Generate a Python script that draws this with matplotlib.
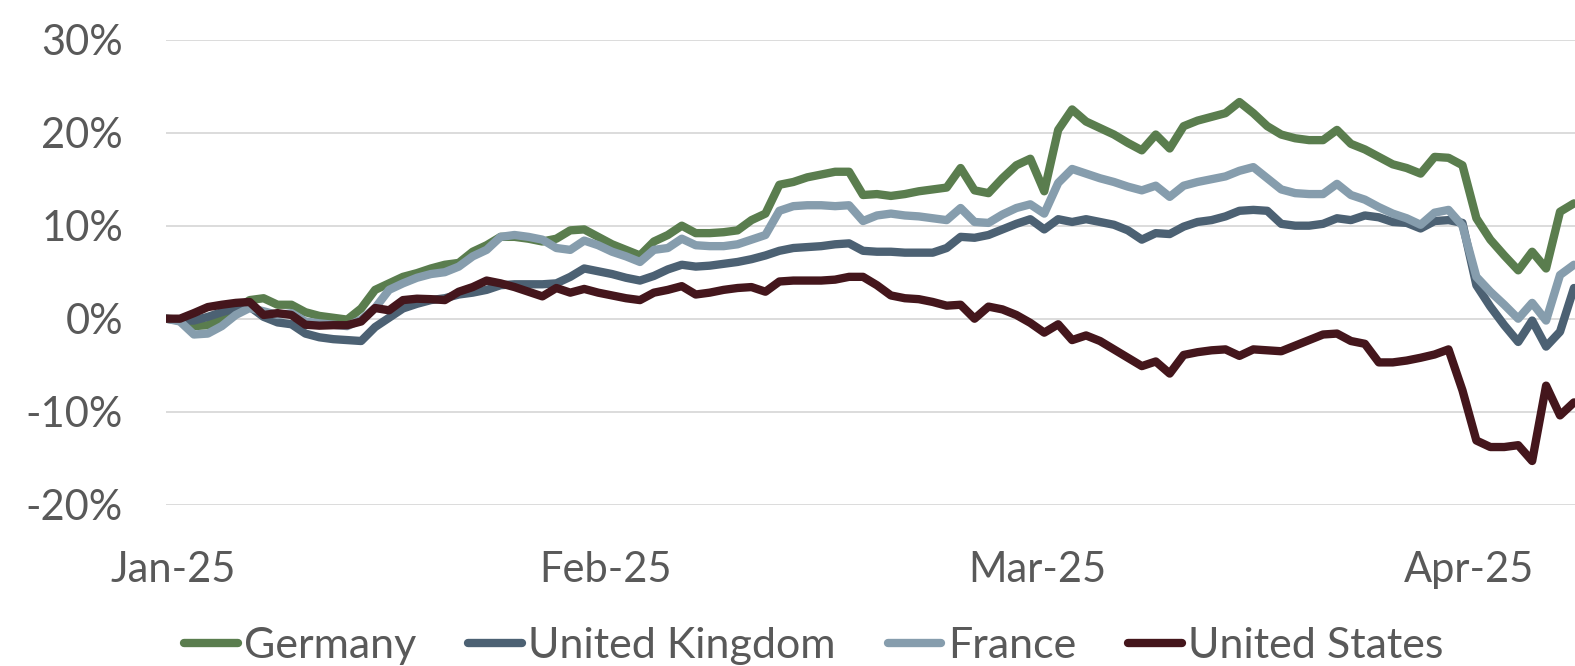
import matplotlib
matplotlib.use("Agg")
import matplotlib.pyplot as plt
import numpy as np

# cumulative return since start of year, %, one value per calendar day
germany = [0.0, -0.1, -0.8, -0.7, 0.1, 1.0, 2.0, 2.2, 1.5, 1.5,
           0.7, 0.3, 0.1, -0.1, 1.1, 3.1, 3.8, 4.5, 4.9, 5.4,
           5.8, 6.0, 7.2, 7.9, 8.8, 8.8, 8.6, 8.3, 8.6, 9.5,
           9.6, 8.8, 8.0, 7.4, 6.8, 8.3, 9.0, 10.0, 9.2, 9.2,
           9.3, 9.5, 10.6, 11.3, 14.4, 14.7, 15.2, 15.5, 15.8, 15.8,
           13.3, 13.4, 13.2, 13.4, 13.7, 13.9, 14.1, 16.2, 13.8, 13.5,
           15.1, 16.5, 17.2, 13.7, 20.3, 22.5, 21.2, 20.5, 19.8, 18.9,
           18.1, 19.8, 18.3, 20.7, 21.3, 21.7, 22.1, 23.3, 22.1, 20.7,
           19.8, 19.4, 19.2, 19.2, 20.3, 18.8, 18.2, 17.4, 16.6, 16.2,
           15.6, 17.4, 17.3, 16.5, 10.8, 8.5, 6.8, 5.2, 7.2, 5.4,
           11.5, 12.4]
uk = [0.0, -0.2, -0.2, 0.2, 0.7, 1.1, 1.3, 0.2, -0.4, -0.6,
      -1.6, -2.0, -2.2, -2.3, -2.4, -0.9, 0.1, 1.1, 1.6, 2.0,
      2.2, 2.6, 2.8, 3.1, 3.6, 3.7, 3.7, 3.7, 3.8, 4.5,
      5.4, 5.1, 4.8, 4.4, 4.1, 4.6, 5.3, 5.8, 5.6, 5.7,
      5.9, 6.1, 6.4, 6.8, 7.3, 7.6, 7.7, 7.8, 8.0, 8.1,
      7.3, 7.2, 7.2, 7.1, 7.1, 7.1, 7.6, 8.8, 8.7, 9.0,
      9.6, 10.2, 10.7, 9.6, 10.7, 10.4, 10.7, 10.4, 10.1, 9.5,
      8.5, 9.2, 9.1, 9.9, 10.4, 10.6, 11.0, 11.6, 11.7, 11.6,
      10.2, 10.0, 10.0, 10.2, 10.8, 10.6, 11.1, 10.9, 10.4, 10.3,
      9.7, 10.5, 10.6, 10.3, 3.6, 1.3, -0.7, -2.5, -0.2, -3.0,
      -1.4, 3.3]
france = [0.0, -0.3, -1.7, -1.6, -0.8, 0.4, 1.15, 0.8, 0.4, 0.6,
          -0.3, -0.5, -0.65, -0.8, -0.1, 1.15, 3.1, 3.8, 4.4, 4.8,
          5.0, 5.6, 6.7, 7.4, 8.8, 9.0, 8.8, 8.5, 7.6, 7.4,
          8.4, 7.9, 7.2, 6.7, 6.1, 7.4, 7.6, 8.6, 7.9, 7.8,
          7.8, 8.0, 8.5, 9.0, 11.6, 12.1, 12.2, 12.2, 12.1, 12.2,
          10.5, 11.1, 11.3, 11.1, 11.0, 10.8, 10.6, 11.9, 10.4, 10.3,
          11.2, 11.9, 12.3, 11.3, 14.6, 16.1, 15.6, 15.1, 14.7, 14.2,
          13.8, 14.3, 13.1, 14.3, 14.7, 15.0, 15.3, 15.9, 16.3, 15.1,
          13.9, 13.5, 13.4, 13.4, 14.5, 13.3, 12.8, 12.0, 11.3, 10.8,
          10.1, 11.4, 11.7, 10.0, 4.5, 2.9, 1.5, 0.0, 1.7, -0.2,
          4.7, 5.8]
us = [0.0, 0.0, 0.6, 1.25, 1.5, 1.7, 1.8, 0.4, 0.6, 0.4,
      -0.65, -0.75, -0.7, -0.7, -0.3, 1.15, 0.9, 2.0, 2.15, 2.1,
      2.0, 2.9, 3.4, 4.1, 3.8, 3.4, 2.9, 2.4, 3.3, 2.8,
      3.2, 2.8, 2.5, 2.2, 2.0, 2.8, 3.1, 3.5, 2.6, 2.8,
      3.1, 3.3, 3.4, 2.9, 4.0, 4.1, 4.1, 4.1, 4.2, 4.5,
      4.5, 3.6, 2.5, 2.2, 2.1, 1.8, 1.4, 1.5, 0.0, 1.3,
      1.0, 0.4, -0.45, -1.5, -0.6, -2.3, -1.8, -2.4, -3.3, -4.2,
      -5.1, -4.6, -5.9, -3.9, -3.6, -3.4, -3.3, -4.0, -3.3, -3.4,
      -3.5, -2.9, -2.3, -1.7, -1.6, -2.4, -2.7, -4.7, -4.7, -4.5,
      -4.2, -3.85, -3.3, -7.7, -13.1, -13.8, -13.8, -13.6, -15.3, -7.2,
      -10.4, -9.0]

series_names = ["Germany", "United Kingdom", "France", "United States"]
colors = ["#5A7D4E", "#4C6173", "#869DAD", "#44161C"]
month_labels = ["Jan-25", "Feb-25", "Mar-25", "Apr-25"]
month_pos = [0.5, 31.5, 62.5, 93.5]
y_ticks = [-20, -10, 0, 10, 20, 30]

text_color = "#595959"
plt.rcParams["font.family"] = ["Lato", "DejaVu Sans"]

fig = plt.figure(figsize=(15.75, 6.66), dpi=100)
ax = fig.add_axes([0.1054, 0.2422, 0.9205, 0.6982])

days = np.arange(len(germany))
for vals, name, c in zip([germany, uk, france, us], series_names, colors):
    ax.plot(days, vals, color=c, lw=6, label=name,
            solid_capstyle="round", solid_joinstyle="round")

ax.set_xlim(0, 104)
ax.set_ylim(-20, 30)
ax.set_yticks(y_ticks)
ax.set_yticklabels([f"{v}%" for v in y_ticks])
ax.set_xticks(month_pos)
ax.set_xticklabels(month_labels)
ax.yaxis.grid(True, color="#D9D9D9", lw=1.3)
ax.set_axisbelow(True)
for s in ax.spines.values():
    s.set_visible(False)
ax.tick_params(axis="y", length=0, pad=31, labelsize=30, labelcolor=text_color)
ax.tick_params(axis="x", length=0, pad=33, labelsize=30, labelcolor=text_color)

fig.legend(loc="center", bbox_to_anchor=(0.5166, 0.03), ncol=4, frameon=False,
           fontsize=31, labelcolor=text_color, handlelength=1.25,
           handletextpad=0.15, columnspacing=1.2, borderpad=0)

fig.savefig("out.png", dpi=100)
